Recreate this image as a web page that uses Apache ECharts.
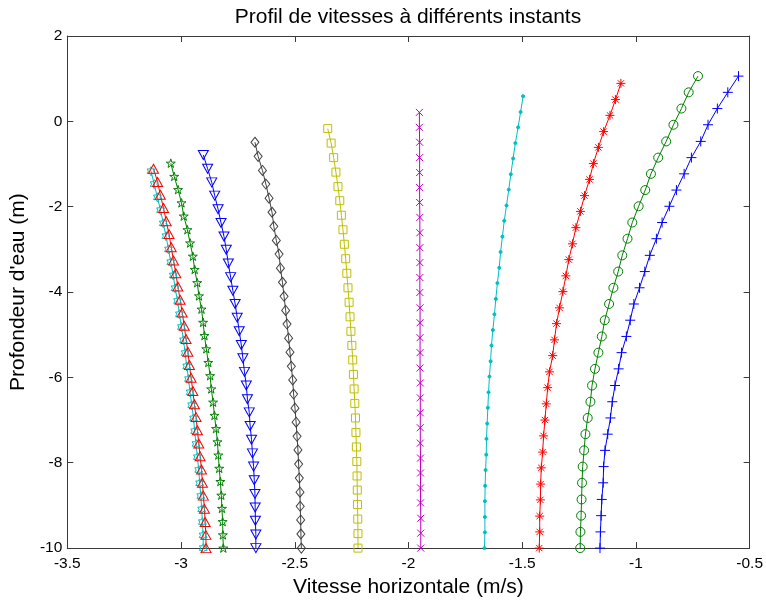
<!DOCTYPE html>
<html><head><meta charset="utf-8">
<script src="https://cdn.jsdelivr.net/npm/echarts@6.0.0/dist/echarts.min.js"></script>
<style>html,body{margin:0;padding:0;background:#fff}#c{width:766px;height:603px}</style>
</head><body><div id="c"></div>
<script>
// ---- Axis ticks ----
const xTicks = [-3.5, -3, -2.5, -2, -1.5, -1, -0.5];
const yTicks = [-10, -8, -6, -4, -2, 0, 2];
const titleText = "Profil de vitesses à différents instants";
const xName = "Vitesse horizontale (m/s)";
const yName = "Profondeur d'eau (m)";

// ---- Depth levels (m), bottom to surface, one array per profile ----
const depthA = [-10,-9.70,-9.39,-9.09,-8.78,-8.48,-8.17,-7.87,-7.56,-7.26,-6.96,-6.65,-6.35,-6.04,-5.74,-5.43,-5.13,-4.82,-4.52,-4.21,-3.91,-3.61,-3.30,-3.00,-2.69,-2.39,-2.08,-1.78,-1.47,-1.17];
const depthB = [-10,-9.69,-9.39,-9.08,-8.77,-8.47,-8.16,-7.85,-7.55,-7.24,-6.93,-6.63,-6.32,-6.01,-5.71,-5.40,-5.10,-4.79,-4.48,-4.18,-3.87,-3.56,-3.26,-2.95,-2.64,-2.34,-2.03,-1.72,-1.42,-1.11];
const depthC = [-10,-9.69,-9.38,-9.07,-8.76,-8.44,-8.13,-7.82,-7.51,-7.20,-6.89,-6.58,-6.27,-5.96,-5.65,-5.33,-5.02,-4.71,-4.40,-4.09,-3.78,-3.47,-3.16,-2.85,-2.54,-2.22,-1.91,-1.60,-1.29,-0.98];
const depthD = [-10,-9.68,-9.36,-9.05,-8.73,-8.41,-8.09,-7.78,-7.46,-7.14,-6.82,-6.51,-6.19,-5.87,-5.55,-5.24,-4.92,-4.60,-4.28,-3.97,-3.65,-3.33,-3.01,-2.70,-2.38,-2.06,-1.74,-1.43,-1.11,-0.79];
const depthE = [-10,-9.67,-9.34,-9.02,-8.69,-8.36,-8.03,-7.70,-7.38,-7.05,-6.72,-6.39,-6.06,-5.74,-5.41,-5.08,-4.75,-4.43,-4.10,-3.77,-3.44,-3.11,-2.79,-2.46,-2.13,-1.80,-1.47,-1.15,-0.82,-0.49];
const depthF = [-10,-9.66,-9.32,-8.98,-8.64,-8.31,-7.97,-7.63,-7.29,-6.95,-6.61,-6.27,-5.93,-5.59,-5.25,-4.92,-4.58,-4.24,-3.90,-3.56,-3.22,-2.88,-2.54,-2.20,-1.86,-1.53,-1.19,-0.85,-0.51,-0.17];
const depthG = [-10,-9.65,-9.30,-8.94,-8.59,-8.24,-7.89,-7.54,-7.18,-6.83,-6.48,-6.13,-5.78,-5.42,-5.07,-4.72,-4.37,-4.01,-3.66,-3.31,-2.96,-2.61,-2.25,-1.90,-1.55,-1.20,-0.85,-0.49,-0.14,0.21];
const depthH = [-10,-9.63,-9.27,-8.90,-8.54,-8.17,-7.81,-7.44,-7.08,-6.71,-6.35,-5.98,-5.62,-5.25,-4.89,-4.52,-4.16,-3.79,-3.43,-3.06,-2.70,-2.33,-1.97,-1.60,-1.24,-0.87,-0.51,-0.14,0.22,0.59];
const depthI = [-10,-9.62,-9.25,-8.87,-8.50,-8.12,-7.75,-7.37,-7.00,-6.62,-6.24,-5.87,-5.49,-5.12,-4.74,-4.37,-3.99,-3.62,-3.24,-2.87,-2.49,-2.11,-1.74,-1.36,-0.99,-0.61,-0.24,0.14,0.51,0.89];
const depthJ = [-10,-9.62,-9.24,-8.86,-8.47,-8.09,-7.71,-7.33,-6.95,-6.57,-6.19,-5.80,-5.42,-5.04,-4.66,-4.28,-3.90,-3.52,-3.14,-2.75,-2.37,-1.99,-1.61,-1.23,-0.85,-0.47,-0.08,0.30,0.68,1.06];

// ---- Horizontal velocities (m/s), bottom to surface ----
const velHexCyan   = [-2.902,-2.903,-2.906,-2.909,-2.913,-2.918,-2.922,-2.928,-2.934,-2.940,-2.945,-2.953,-2.960,-2.967,-2.975,-2.982,-2.989,-2.998,-3.007,-3.015,-3.026,-3.034,-3.045,-3.055,-3.066,-3.078,-3.090,-3.104,-3.118,-3.132];
const velTriRed    = [-2.890,-2.891,-2.894,-2.897,-2.902,-2.906,-2.910,-2.916,-2.922,-2.928,-2.934,-2.941,-2.948,-2.956,-2.963,-2.970,-2.978,-2.986,-2.995,-3.004,-3.014,-3.023,-3.033,-3.043,-3.053,-3.065,-3.077,-3.091,-3.103,-3.121];
const velStarGreen = [-2.814,-2.816,-2.817,-2.820,-2.823,-2.827,-2.832,-2.836,-2.840,-2.846,-2.853,-2.859,-2.867,-2.872,-2.880,-2.889,-2.897,-2.903,-2.910,-2.921,-2.929,-2.940,-2.948,-2.960,-2.972,-2.988,-2.998,-3.013,-3.030,-3.045];
const velTriDnBlue = [-2.671,-2.671,-2.673,-2.674,-2.675,-2.678,-2.681,-2.686,-2.690,-2.696,-2.700,-2.708,-2.713,-2.721,-2.728,-2.735,-2.744,-2.753,-2.762,-2.772,-2.782,-2.792,-2.801,-2.811,-2.824,-2.837,-2.852,-2.865,-2.883,-2.902];
const velDiamGray  = [-2.471,-2.473,-2.474,-2.476,-2.477,-2.480,-2.483,-2.486,-2.490,-2.494,-2.499,-2.505,-2.509,-2.515,-2.521,-2.527,-2.534,-2.540,-2.547,-2.554,-2.563,-2.569,-2.581,-2.592,-2.600,-2.613,-2.627,-2.642,-2.661,-2.675];
const velSqYellow  = [-2.222,-2.222,-2.223,-2.224,-2.225,-2.226,-2.227,-2.229,-2.231,-2.233,-2.236,-2.239,-2.242,-2.245,-2.249,-2.253,-2.257,-2.261,-2.266,-2.271,-2.276,-2.282,-2.288,-2.295,-2.302,-2.310,-2.319,-2.329,-2.340,-2.355];
const velXMagenta  = [-1.946,-1.946,-1.946,-1.947,-1.947,-1.947,-1.947,-1.948,-1.948,-1.948,-1.948,-1.948,-1.949,-1.949,-1.949,-1.949,-1.949,-1.950,-1.950,-1.950,-1.950,-1.950,-1.950,-1.951,-1.951,-1.951,-1.951,-1.951,-1.952,-1.952];
const velDotCyan   = [-1.666,-1.664,-1.664,-1.664,-1.663,-1.661,-1.658,-1.657,-1.654,-1.651,-1.648,-1.644,-1.639,-1.635,-1.629,-1.622,-1.616,-1.609,-1.601,-1.595,-1.587,-1.579,-1.569,-1.559,-1.550,-1.540,-1.530,-1.518,-1.507,-1.496];
const velAstRed    = [-1.425,-1.423,-1.423,-1.420,-1.419,-1.416,-1.410,-1.406,-1.400,-1.394,-1.388,-1.380,-1.366,-1.358,-1.349,-1.336,-1.321,-1.308,-1.295,-1.279,-1.264,-1.244,-1.226,-1.204,-1.187,-1.165,-1.142,-1.114,-1.090,-1.066];
const velCircGreen = [-1.245,-1.244,-1.241,-1.239,-1.237,-1.234,-1.228,-1.222,-1.212,-1.200,-1.193,-1.180,-1.165,-1.150,-1.137,-1.118,-1.099,-1.078,-1.060,-1.037,-1.016,-0.988,-0.959,-0.934,-0.902,-0.867,-0.835,-0.800,-0.768,-0.727];
const velPlusBlue  = [-1.158,-1.156,-1.153,-1.150,-1.144,-1.142,-1.136,-1.124,-1.112,-1.104,-1.092,-1.076,-1.063,-1.042,-1.025,-1.009,-0.984,-0.961,-0.939,-0.910,-0.885,-0.853,-0.822,-0.788,-0.756,-0.715,-0.683,-0.642,-0.596,-0.549];

// ---- Marker shapes ----
const HEXAGRAM = 'path://M50,0L64.43,25L93.3,25L78.87,50L93.3,75L64.43,75L50,100L35.57,75L6.7,75L21.13,50L6.7,25L35.57,25Z';
const PENTAGRAM = 'path://M50,0L61.23,34.55L97.55,34.55L68.16,55.9L79.39,90.45L50,69.1L20.61,90.45L31.84,55.9L2.45,34.55L38.77,34.55Z';
const XMARK = 'path://M0,0L10,10M10,0L0,10';
const PLUS = 'path://M5,0L5,10M0,5L10,5';
const ASTER = 'path://M5,0L5,10M0,5L10,5M1.5,1.5L8.5,8.5M8.5,1.5L1.5,8.5';

const profiles = [
  {v: velHexCyan,   d: depthA, color: '#00bfbf', symbol: HEXAGRAM, size: 9, keep: true},
  {v: velTriRed,    d: depthB, color: '#ff0000', symbol: 'triangle', size: [10, 9]},
  {v: velStarGreen, d: depthC, color: '#008000', symbol: PENTAGRAM, size: 9, keep: true},
  {v: velTriDnBlue, d: depthD, color: '#0000ff', symbol: 'triangle', size: [10, 9], rotate: 180},
  {v: velDiamGray,  d: depthE, color: '#404040', symbol: 'diamond', size: [8, 10]},
  {v: velSqYellow,  d: depthF, color: '#bfbf00', symbol: 'rect', size: 8},
  {v: velXMagenta,  d: depthG, color: '#bf00bf', symbol: XMARK, size: 7},
  {v: velDotCyan,   d: depthH, color: '#00bfbf', symbol: 'circle', size: 3, filled: true},
  {v: velAstRed,    d: depthI, color: '#ff0000', symbol: ASTER, size: 9},
  {v: velCircGreen, d: depthJ, color: '#008000', symbol: 'circle', size: 9},
  {v: velPlusBlue,  d: depthJ, color: '#0000ff', symbol: PLUS, size: 10}
];

const FONT = '"Liberation Sans", Arial, Helvetica, sans-serif';
const AXCOL = '#3a3a3a';

const series = profiles.map(p => ({
  type: 'line',
  data: p.v.map((x, i) => [x, p.d[i]]),
  clip: false,
  symbol: p.symbol,
  symbolSize: p.size,
  symbolRotate: p.rotate || 0,
  symbolKeepAspect: !!p.keep,
  showAllSymbol: true,
  animation: false,
  lineStyle: {color: p.color, width: 1},
  itemStyle: {color: p.filled ? p.color : 'rgba(0,0,0,0)', borderColor: p.color, borderWidth: 1},
  emphasis: {disabled: true}
}));

const chart = echarts.init(document.getElementById('c'), null, {renderer: 'canvas'});
const baseX = {
  type: 'value', min: xTicks[0], max: xTicks[xTicks.length - 1], interval: xTicks[1] - xTicks[0],
  axisLine: {show: true, onZero: false, lineStyle: {color: AXCOL, width: 1}},
  axisTick: {show: true, inside: true, length: 6, lineStyle: {color: AXCOL}},
  splitLine: {show: false}
};
const baseY = {
  type: 'value', min: yTicks[0], max: yTicks[yTicks.length - 1], interval: yTicks[1] - yTicks[0],
  axisLine: {show: true, onZero: false, lineStyle: {color: AXCOL, width: 1}},
  axisTick: {show: true, inside: true, length: 6, lineStyle: {color: AXCOL}},
  splitLine: {show: false}
};
chart.setOption({
  animation: false,
  backgroundColor: '#ffffff',
  grid: {left: 67, right: 14, top: 36, bottom: 47, containLabel: false},
  graphic: [{
    type: 'text', x: 408, y: 17,
    style: {text: titleText, fontFamily: FONT, fontSize: 21, fill: '#000', align: 'center', verticalAlign: 'middle'}
  }],
  xAxis: [
    Object.assign({}, baseX, {
      position: 'bottom',
      axisLabel: {show: true, color: '#000', fontFamily: FONT, fontSize: 15.5, margin: 8,
        formatter: v => String(xTicks.find(t => Math.abs(t - v) < 1e-9) ?? v)},
      name: xName, nameLocation: 'middle', nameGap: 23,
      nameTextStyle: {color: '#000', fontFamily: FONT, fontSize: 21}
    }),
    Object.assign({}, baseX, {position: 'top', axisLabel: {show: false}})
  ],
  yAxis: [
    Object.assign({}, baseY, {
      position: 'left',
      axisLabel: {show: true, color: '#000', fontFamily: FONT, fontSize: 15.5, margin: 5,
        formatter: v => String(yTicks.find(t => Math.abs(t - v) < 1e-9) ?? v)},
      name: yName, nameLocation: 'middle', nameGap: 31, nameRotate: 90,
      nameTextStyle: {color: '#000', fontFamily: FONT, fontSize: 21}
    }),
    Object.assign({}, baseY, {position: 'right', axisLabel: {show: false}})
  ],
  series: series
});
</script>
</body></html>
